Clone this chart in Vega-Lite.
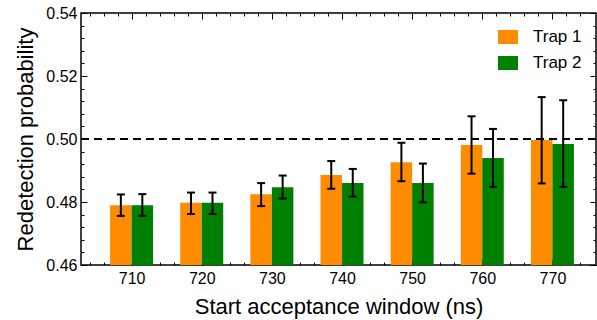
{
  "$schema": "https://vega.github.io/schema/vega-lite/v6.json",
  "autosize": {"type": "none"},
  "width": 515,
  "height": 252,
  "padding": {"left": 81, "top": 13, "right": 1, "bottom": 55},
  "data": {"values": [
    {"window": 710, "trap": "Trap 1", "p": 0.4790, "lo": 0.4756, "hi": 0.4824},
    {"window": 710, "trap": "Trap 2", "p": 0.4790, "lo": 0.4756, "hi": 0.4825},
    {"window": 720, "trap": "Trap 1", "p": 0.4798, "lo": 0.4762, "hi": 0.4830},
    {"window": 720, "trap": "Trap 2", "p": 0.4798, "lo": 0.4762, "hi": 0.4830},
    {"window": 730, "trap": "Trap 1", "p": 0.4825, "lo": 0.4787, "hi": 0.4860},
    {"window": 730, "trap": "Trap 2", "p": 0.4847, "lo": 0.4811, "hi": 0.4884},
    {"window": 740, "trap": "Trap 1", "p": 0.4886, "lo": 0.4842, "hi": 0.4930},
    {"window": 740, "trap": "Trap 2", "p": 0.4860, "lo": 0.4817, "hi": 0.4905},
    {"window": 750, "trap": "Trap 1", "p": 0.4926, "lo": 0.4866, "hi": 0.4988},
    {"window": 750, "trap": "Trap 2", "p": 0.4860, "lo": 0.4799, "hi": 0.4922},
    {"window": 760, "trap": "Trap 1", "p": 0.4981, "lo": 0.4890, "hi": 0.5072},
    {"window": 760, "trap": "Trap 2", "p": 0.4940, "lo": 0.4848, "hi": 0.5032},
    {"window": 770, "trap": "Trap 1", "p": 0.4997, "lo": 0.4859, "hi": 0.5133},
    {"window": 770, "trap": "Trap 2", "p": 0.4984, "lo": 0.4848, "hi": 0.5123}
  ]},
  "layer": [
    {
      "mark": {"type": "bar", "width": 21.5, "xOffset": {"expr": "datum.trap === 'Trap 1' ? -10.75 : 10.75"}},
      "encoding": {
        "x": {"field": "window", "type": "quantitative",
          "scale": {"domain": [703.5, 775.5], "nice": false, "zero": false},
          "axis": {"orient": "bottom", "title": "Start acceptance window (ns)",
            "values": [704,706,708,710,712,714,716,718,720,722,724,726,728,730,732,734,736,738,740,742,744,746,748,750,752,754,756,758,760,762,764,766,768,770,772,774],
            "labelExpr": "datum.value % 10 === 0 ? datum.label : ''",
            "tickSize": {"condition": {"test": "datum.value % 10 === 0", "value": -6}, "value": -3},
            "labelPadding": 11, "titlePadding": 7}},
        "y": {"field": "p", "type": "quantitative",
          "scale": {"domain": [0.46, 0.54], "nice": false, "zero": false},
          "axis": {"orient": "left", "title": "Redetection probability",
            "values": [0.46,0.464,0.468,0.472,0.476,0.48,0.484,0.488,0.492,0.496,0.5,0.504,0.508,0.512,0.516,0.52,0.524,0.528,0.532,0.536,0.54],
            "format": ".2f",
            "labelExpr": "abs(datum.value*50 - round(datum.value*50)) < 0.001 ? datum.label : ''",
            "tickSize": {"condition": {"test": "abs(datum.value*50 - round(datum.value*50)) < 0.001", "value": -6}, "value": -3},
            "labelPadding": 10, "titlePadding": 8}},
        "y2": {"datum": 0.46},
        "color": {"field": "trap", "type": "nominal",
          "scale": {"domain": ["Trap 1", "Trap 2"], "range": ["#ff8c00", "#008000"]},
          "legend": {"title": null, "orient": "none", "legendX": 417, "legendY": 14,
            "symbolType": "M-1,-0.7H1V0.7H-1Z", "symbolSize": 400, "symbolStrokeWidth": 0,
            "labelFontSize": 17, "labelOffset": 15, "rowPadding": 8, "padding": 0}}
      }
    },
    {
      "mark": {"type": "rule", "strokeWidth": 2, "color": "black", "xOffset": {"expr": "datum.trap === 'Trap 1' ? -10.75 : 10.75"}},
      "encoding": {
        "x": {"field": "window", "type": "quantitative",
          "axis": {"orient": "top", "title": null, "labels": false,
            "values": [704,706,708,710,712,714,716,718,720,722,724,726,728,730,732,734,736,738,740,742,744,746,748,750,752,754,756,758,760,762,764,766,768,770,772,774],
            "tickSize": {"condition": {"test": "datum.value % 10 === 0", "value": -6}, "value": -3}}},
        "y": {"field": "lo", "type": "quantitative",
          "axis": {"orient": "right", "title": null, "labels": false,
            "values": [0.46,0.464,0.468,0.472,0.476,0.48,0.484,0.488,0.492,0.496,0.5,0.504,0.508,0.512,0.516,0.52,0.524,0.528,0.532,0.536,0.54],
            "tickSize": {"condition": {"test": "abs(datum.value*50 - round(datum.value*50)) < 0.001", "value": -6}, "value": -3}}},
        "y2": {"field": "hi"}
      }
    },
    {
      "mark": {"type": "tick", "orient": "horizontal", "size": 8, "thickness": 2, "color": "black", "opacity": 1, "xOffset": {"expr": "datum.trap === 'Trap 1' ? -10.75 : 10.75"}},
      "encoding": {
        "x": {"field": "window", "type": "quantitative", "axis": null},
        "y": {"field": "lo", "type": "quantitative", "axis": null}
      }
    },
    {
      "mark": {"type": "tick", "orient": "horizontal", "size": 8, "thickness": 2, "color": "black", "opacity": 1, "xOffset": {"expr": "datum.trap === 'Trap 1' ? -10.75 : 10.75"}},
      "encoding": {
        "x": {"field": "window", "type": "quantitative", "axis": null},
        "y": {"field": "hi", "type": "quantitative", "axis": null}
      }
    },
    {
      "mark": {"type": "rule", "strokeWidth": 2, "strokeDash": [8, 5], "color": "black"},
      "encoding": {"y": {"datum": 0.5, "axis": null}}
    }
  ],
  "resolve": {"axis": {"x": "independent", "y": "independent"}},
  "config": {
    "font": "Liberation Sans",
    "view": {"stroke": "black", "strokeWidth": 1.5},
    "axis": {"domain": false, "grid": false, "labelFontSize": 16, "titleFontSize": 22, "titleFontWeight": "normal",
      "labelColor": "black", "titleColor": "black", "tickColor": "black", "tickWidth": 1, "labelOverlap": false, "labelFlush": false},
    "legend": {"labelColor": "black"}
  }
}
